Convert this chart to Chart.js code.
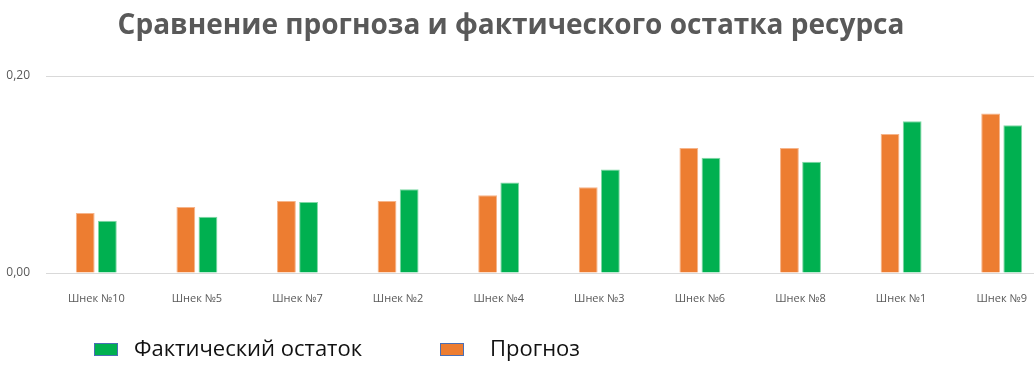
<!DOCTYPE html>
<html>
<head>
<meta charset="utf-8">
<script src="https://cdn.jsdelivr.net/npm/chart.js@4"></script>
<style>
  html, body { margin: 0; padding: 0; background: #fff; overflow: hidden; }
  #wrap { width: 1058px; height: 384px; position: relative; }
</style>
</head>
<body>
<div id="wrap"><canvas id="chart"></canvas></div>
<script>
var titleText = "Сравнение прогноза и фактического остатка ресурса";
var categories = ["Шнек №10", "Шнек №5", "Шнек №7", "Шнек №2", "Шнек №4", "Шнек №3", "Шнек №6", "Шнек №8", "Шнек №1", "Шнек №9"];
var prognoz = [0.061, 0.067, 0.073, 0.073, 0.079, 0.087, 0.127, 0.127, 0.141, 0.162];
var fact = [0.053, 0.057, 0.072, 0.085, 0.092, 0.105, 0.117, 0.113, 0.154, 0.150];
var yTicks = [0, 0.2];

// title + legend drawn by hand so they sit where the excel ones do
var extras = {
  id: "extras",
  afterDraw: function (chart) {
    var ctx = chart.ctx;
    ctx.save();
    ctx.fillStyle = "#595959";
    ctx.font = "bold 28px 'Open Sans'";
    ctx.textAlign = "center";
    ctx.textBaseline = "middle";
    ctx.fillText(titleText, 511, 26);

    var items = [
      { ds: chart.data.datasets[1], x: 94, tx: 134 },
      { ds: chart.data.datasets[0], x: 440, tx: 490 }
    ];
    ctx.font = "22px 'Open Sans'";
    ctx.textAlign = "left";
    items.forEach(function (it) {
      ctx.fillStyle = it.ds.backgroundColor;
      ctx.fillRect(it.x, 343, 24, 13);
      ctx.strokeStyle = "#4a6fb5";
      ctx.lineWidth = 1;
      ctx.strokeRect(it.x + 0.5, 343.5, 23, 12);
      ctx.fillStyle = "#111";
      ctx.fillText(it.ds.label, it.tx, 350);
    });
    ctx.restore();
  }
};

const ctx = document.getElementById("chart").getContext("2d");
const myChart = new Chart(ctx, {
  type: "bar",
  data: {
    labels: categories,
    datasets: [
      {
        label: "Прогноз",
        data: prognoz,
        backgroundColor: "#ED7D31",
        borderColor: "#f6b48a",
        borderWidth: 1,
        categoryPercentage: 0.44,
        barPercentage: 0.85,
      },
      {
        label: "Фактический остаток",
        data: fact,
        backgroundColor: "#00B050",
        borderColor: "#7fd8a5",
        borderWidth: 1,
        categoryPercentage: 0.44,
        barPercentage: 0.85,
      },
    ],
  },
  options: {
    responsive: true,
    maintainAspectRatio: false,
    animation: false,
    layout: { padding: { top: 76, right: 6, left: 0, bottom: 0 } },
    plugins: {
      legend: { display: false },
      title: { display: false },
      tooltip: { enabled: false },
    },
    scales: {
      x: {
        grid: { display: false },
        border: { display: false },
        ticks: {
          color: "#595959",
          font: { family: "Open Sans", size: 11 },
          padding: 11,
          maxRotation: 0,
        },
        afterFit: function (scale) {
          scale.height = 111;
        },
      },
      y: {
        min: 0,
        max: 0.2,
        border: { display: false },
        grid: { color: "#d9d9d9", drawTicks: false },
        afterBuildTicks: function (scale) {
          scale.ticks = yTicks.map(function (v) { return { value: v }; });
        },
        ticks: {
          color: "#595959",
          font: { family: "Open Sans", size: 12 },
          padding: 16,
          callback: function (v) {
            return v.toFixed(2).replace(".", ",");
          },
        },
        afterFit: function (scale) {
          scale.width = 46;
        },
      },
    },
  },
  plugins: [extras],
});
</script>
</body>
</html>
